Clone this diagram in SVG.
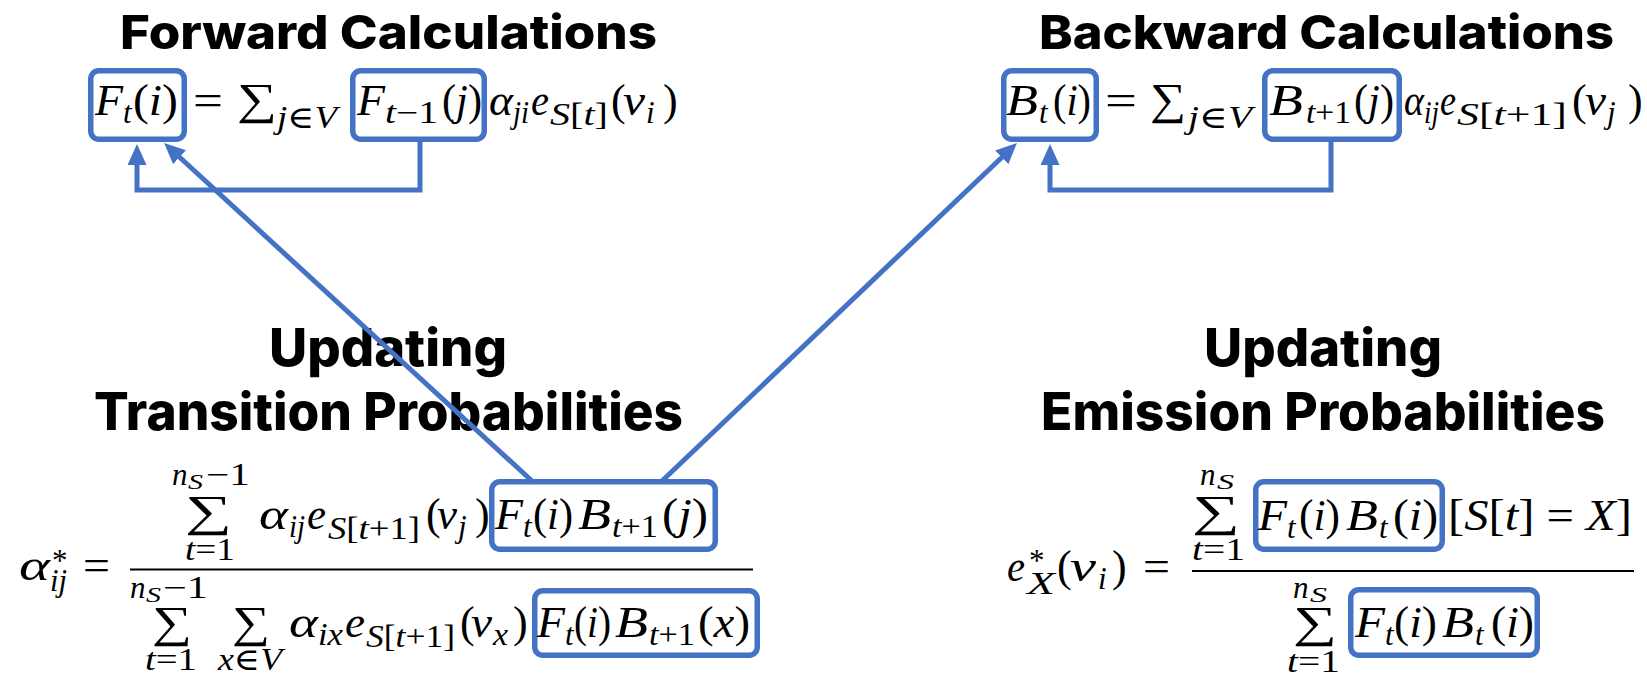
<svg xmlns="http://www.w3.org/2000/svg" width="1647" height="677" viewBox="0 0 1647 677">
<style>
.t{font-family:Inter,"Open Sans",Lato,sans-serif;font-weight:800;fill:#000;font-variant-ligatures:none}
.m{font-family:"Liberation Serif","DejaVu Serif",serif;fill:#000;font-size:44px}
.s{font-size:31px}
.ss{font-size:22px}
.i{font-style:italic}
.box{fill:none;stroke:#4472C4;stroke-width:5.5}
.bar{stroke:#000;stroke-width:1.8}
.c{fill:none;stroke:#4472C4;stroke-width:5}
</style>
<defs>
<marker id="ah" markerUnits="userSpaceOnUse" markerWidth="22" markerHeight="20" refX="1" refY="9.5" orient="auto">
<path d="M0,0 L21,9.5 L0,19 z" fill="#4472C4"/>
</marker>
</defs>

<g id="forward">
<text class="t" x="388.5" y="49" font-size="47" text-anchor="middle" textLength="537" lengthAdjust="spacingAndGlyphs">Forward Calculations</text>
<rect id="forward-Ft" class="box" x="90.75" y="70.75" width="93.5" height="68.5" rx="8"/>
<rect id="forward-Ft1" class="box" x="352.75" y="70.75" width="131.5" height="68.5" rx="8"/>
<text class="m i" x="95" y="115" textLength="28" lengthAdjust="spacingAndGlyphs">F</text>
<text class="m i s" x="123" y="123">t</text>
<text class="m" x="133" y="115" textLength="45" lengthAdjust="spacingAndGlyphs">(<tspan class="i">i</tspan>)</text>
<text class="m" x="193" y="115" textLength="30" lengthAdjust="spacingAndGlyphs">=</text>
<text class="m" x="237" y="114" font-size="38" textLength="40" lengthAdjust="spacingAndGlyphs">∑</text>
<text class="m s" x="277" y="128" textLength="60" lengthAdjust="spacingAndGlyphs"><tspan class="i">j</tspan>∈<tspan class="i">V</tspan></text>
<text class="m i" x="357" y="115" textLength="28" lengthAdjust="spacingAndGlyphs">F</text>
<text class="m s" x="385" y="123" textLength="53" lengthAdjust="spacingAndGlyphs"><tspan class="i">t</tspan>−1</text>
<text class="m" x="442" y="115" textLength="40" lengthAdjust="spacingAndGlyphs">(<tspan class="i">j</tspan>)</text>
<text class="m i" x="489" y="115" textLength="24" lengthAdjust="spacingAndGlyphs">α</text>
<text class="m i s" x="513" y="123" textLength="16" lengthAdjust="spacingAndGlyphs">ji</text>
<text class="m i" x="531" y="115" textLength="18" lengthAdjust="spacingAndGlyphs">e</text>
<text class="m s" x="550" y="125" textLength="58" lengthAdjust="spacingAndGlyphs"><tspan class="i">S</tspan>[<tspan class="i">t</tspan>]</text>
<text class="m" x="611" y="115">(</text>
<text class="m i" x="623" y="115" textLength="22" lengthAdjust="spacingAndGlyphs">v</text>
<text class="m i s" x="646" y="123">i</text>
<text class="m" x="663" y="115">)</text>
</g>

<g id="backward">
<text class="t" x="1326.5" y="49" font-size="47" text-anchor="middle" textLength="575" lengthAdjust="spacingAndGlyphs">Backward Calculations</text>
<rect id="backward-Bt" class="box" x="1003.75" y="70.75" width="92.5" height="68.5" rx="8"/>
<rect id="backward-Bt1" class="box" x="1264.75" y="70.75" width="134.5" height="68.5" rx="8"/>
<text class="m i" x="1006" y="115" textLength="32" lengthAdjust="spacingAndGlyphs">B</text>
<text class="m i s" x="1039" y="123">t</text>
<text class="m" x="1053" y="115" textLength="38" lengthAdjust="spacingAndGlyphs">(<tspan class="i">i</tspan>)</text>
<text class="m" x="1105" y="115" textLength="32" lengthAdjust="spacingAndGlyphs">=</text>
<text class="m" x="1150" y="114" font-size="38" textLength="36" lengthAdjust="spacingAndGlyphs">∑</text>
<text class="m s" x="1188" y="128" textLength="64" lengthAdjust="spacingAndGlyphs"><tspan class="i">j</tspan>∈<tspan class="i">V</tspan></text>
<text class="m i" x="1269" y="115" textLength="34" lengthAdjust="spacingAndGlyphs">B</text>
<text class="m s" x="1306" y="123" textLength="45" lengthAdjust="spacingAndGlyphs"><tspan class="i">t</tspan>+1</text>
<text class="m" x="1354" y="115" textLength="40" lengthAdjust="spacingAndGlyphs">(<tspan class="i">j</tspan>)</text>
<text class="m i" x="1404" y="115" textLength="20" lengthAdjust="spacingAndGlyphs">α</text>
<text class="m i s" x="1424" y="123" textLength="15" lengthAdjust="spacingAndGlyphs">ij</text>
<text class="m i" x="1440" y="115" textLength="16" lengthAdjust="spacingAndGlyphs">e</text>
<text class="m s" x="1457" y="125" textLength="110" lengthAdjust="spacingAndGlyphs"><tspan class="i">S</tspan>[<tspan class="i">t</tspan>+1]</text>
<text class="m" x="1572" y="115">(</text>
<text class="m i" x="1585" y="115" textLength="21" lengthAdjust="spacingAndGlyphs">v</text>
<text class="m i s" x="1607" y="123">j</text>
<text class="m" x="1628" y="115">)</text>
</g>

<g id="transition">
<text class="t" x="388" y="366" font-size="52" text-anchor="middle" textLength="238" lengthAdjust="spacingAndGlyphs">Updating</text>
<text class="t" x="388.5" y="430" font-size="52" text-anchor="middle" textLength="589" lengthAdjust="spacingAndGlyphs">Transition Probabilities</text>
<rect id="transition-num" class="box" x="491.75" y="481.75" width="223.5" height="67.5" rx="8"/>
<rect id="transition-den" class="box" x="534.75" y="590.75" width="222.5" height="64.5" rx="8"/>
<text class="m i" x="19" y="580" textLength="31" lengthAdjust="spacingAndGlyphs">α</text>
<text class="m s" x="52" y="571">*</text>
<text class="m i s" x="50" y="591" textLength="17" lengthAdjust="spacingAndGlyphs">ij</text>
<text class="m" x="83" y="580" textLength="27" lengthAdjust="spacingAndGlyphs">=</text>
<line class="bar" x1="130" y1="569.5" x2="753" y2="569.5"/>
<text class="m i s" x="172" y="485">n</text>
<text class="m i ss" x="188" y="489" textLength="15" lengthAdjust="spacingAndGlyphs">S</text>
<text class="m s" x="206" y="485" textLength="44" lengthAdjust="spacingAndGlyphs">−1</text>
<text class="m" x="185" y="526" font-size="43" textLength="47" lengthAdjust="spacingAndGlyphs">∑</text>
<text class="m s" x="185" y="560" textLength="50" lengthAdjust="spacingAndGlyphs"><tspan class="i">t</tspan>=1</text>
<text class="m i" x="259" y="529" textLength="29" lengthAdjust="spacingAndGlyphs">α</text>
<text class="m i s" x="289" y="537" textLength="16" lengthAdjust="spacingAndGlyphs">ij</text>
<text class="m i" x="307" y="529" textLength="19" lengthAdjust="spacingAndGlyphs">e</text>
<text class="m s" x="328" y="539" textLength="92" lengthAdjust="spacingAndGlyphs"><tspan class="i">S</tspan>[<tspan class="i">t</tspan>+1]</text>
<text class="m" x="426" y="529">(</text>
<text class="m i" x="437" y="529" textLength="20" lengthAdjust="spacingAndGlyphs">v</text>
<text class="m i s" x="458" y="537">j</text>
<text class="m" x="475" y="529">)</text>
<text class="m i" x="495" y="529" textLength="28" lengthAdjust="spacingAndGlyphs">F</text>
<text class="m i s" x="523" y="537">t</text>
<text class="m" x="533" y="529" textLength="40" lengthAdjust="spacingAndGlyphs">(<tspan class="i">i</tspan>)</text>
<text class="m i" x="578" y="529" textLength="33" lengthAdjust="spacingAndGlyphs">B</text>
<text class="m s" x="612" y="537" textLength="46" lengthAdjust="spacingAndGlyphs"><tspan class="i">t</tspan>+1</text>
<text class="m" x="662" y="529" textLength="46" lengthAdjust="spacingAndGlyphs">(<tspan class="i">j</tspan>)</text>
<text class="m i s" x="130" y="598">n</text>
<text class="m i ss" x="146" y="602" textLength="15" lengthAdjust="spacingAndGlyphs">S</text>
<text class="m s" x="163" y="598" textLength="45" lengthAdjust="spacingAndGlyphs">−1</text>
<text class="m" x="152" y="637" font-size="41" textLength="40" lengthAdjust="spacingAndGlyphs">∑</text>
<text class="m" x="232" y="637" font-size="41" textLength="38" lengthAdjust="spacingAndGlyphs">∑</text>
<text class="m s" x="145" y="670" textLength="52" lengthAdjust="spacingAndGlyphs"><tspan class="i">t</tspan>=1</text>
<text class="m s" x="218" y="670" textLength="64" lengthAdjust="spacingAndGlyphs"><tspan class="i">x</tspan>∈<tspan class="i">V</tspan></text>
<text class="m i" x="289" y="637" textLength="29" lengthAdjust="spacingAndGlyphs">α</text>
<text class="m i s" x="318" y="645" textLength="25" lengthAdjust="spacingAndGlyphs">ix</text>
<text class="m i" x="345" y="637" textLength="20" lengthAdjust="spacingAndGlyphs">e</text>
<text class="m s" x="366" y="647" textLength="89" lengthAdjust="spacingAndGlyphs"><tspan class="i">S</tspan>[<tspan class="i">t</tspan>+1]</text>
<text class="m" x="460" y="637">(</text>
<text class="m i" x="471" y="637" textLength="21" lengthAdjust="spacingAndGlyphs">v</text>
<text class="m i s" x="493" y="645" textLength="15" lengthAdjust="spacingAndGlyphs">x</text>
<text class="m" x="513" y="637">)</text>
<text class="m i" x="537" y="637" textLength="28" lengthAdjust="spacingAndGlyphs">F</text>
<text class="m i s" x="565" y="645">t</text>
<text class="m" x="574" y="637" textLength="37" lengthAdjust="spacingAndGlyphs">(<tspan class="i">i</tspan>)</text>
<text class="m i" x="615" y="637" textLength="33" lengthAdjust="spacingAndGlyphs">B</text>
<text class="m s" x="649" y="645" textLength="46" lengthAdjust="spacingAndGlyphs"><tspan class="i">t</tspan>+1</text>
<text class="m" x="698" y="637" textLength="52" lengthAdjust="spacingAndGlyphs">(<tspan class="i">x</tspan>)</text>
</g>

<g id="emission">
<text class="t" x="1323" y="366" font-size="52" text-anchor="middle" textLength="238" lengthAdjust="spacingAndGlyphs">Updating</text>
<text class="t" x="1323" y="430" font-size="52" text-anchor="middle" textLength="564" lengthAdjust="spacingAndGlyphs">Emission Probabilities</text>
<rect id="emission-num" class="box" x="1255.75" y="481.75" width="186.5" height="67.5" rx="8"/>
<rect id="emission-den" class="box" x="1350.75" y="589.75" width="186.5" height="65.5" rx="8"/>
<text class="m i" x="1007" y="581" textLength="18" lengthAdjust="spacingAndGlyphs">e</text>
<text class="m s" x="1029" y="571">*</text>
<text class="m i s" x="1027" y="594" textLength="28" lengthAdjust="spacingAndGlyphs">X</text>
<text class="m" x="1057" y="581">(</text>
<text class="m i" x="1070" y="581" textLength="26" lengthAdjust="spacingAndGlyphs">v</text>
<text class="m i s" x="1098" y="589">i</text>
<text class="m" x="1112" y="581">)</text>
<text class="m" x="1143" y="581" textLength="27" lengthAdjust="spacingAndGlyphs">=</text>
<line class="bar" x1="1192" y1="571" x2="1634" y2="571"/>
<text class="m i s" x="1200" y="485">n</text>
<text class="m i ss" x="1217" y="489" textLength="17" lengthAdjust="spacingAndGlyphs">S</text>
<text class="m" x="1192" y="526" font-size="43" textLength="48" lengthAdjust="spacingAndGlyphs">∑</text>
<text class="m s" x="1192" y="560" textLength="53" lengthAdjust="spacingAndGlyphs"><tspan class="i">t</tspan>=1</text>
<text class="m i" x="1258" y="530" textLength="29" lengthAdjust="spacingAndGlyphs">F</text>
<text class="m i s" x="1287" y="538">t</text>
<text class="m" x="1299" y="530" textLength="41" lengthAdjust="spacingAndGlyphs">(<tspan class="i">i</tspan>)</text>
<text class="m i" x="1346" y="530" textLength="32" lengthAdjust="spacingAndGlyphs">B</text>
<text class="m i s" x="1379" y="538">t</text>
<text class="m" x="1393" y="530" textLength="45" lengthAdjust="spacingAndGlyphs">(<tspan class="i">i</tspan>)</text>
<text class="m" x="1448" y="530" textLength="184" lengthAdjust="spacingAndGlyphs">[<tspan class="i">S</tspan>[<tspan class="i">t</tspan>] = <tspan class="i">X</tspan>]</text>
<text class="m i s" x="1293" y="598">n</text>
<text class="m i ss" x="1310" y="602" textLength="17" lengthAdjust="spacingAndGlyphs">S</text>
<text class="m" x="1293" y="637" font-size="41" textLength="44" lengthAdjust="spacingAndGlyphs">∑</text>
<text class="m s" x="1287" y="672" textLength="53" lengthAdjust="spacingAndGlyphs"><tspan class="i">t</tspan>=1</text>
<text class="m i" x="1355" y="637" textLength="30" lengthAdjust="spacingAndGlyphs">F</text>
<text class="m i s" x="1385" y="645">t</text>
<text class="m" x="1394" y="637" textLength="43" lengthAdjust="spacingAndGlyphs">(<tspan class="i">i</tspan>)</text>
<text class="m i" x="1442" y="637" textLength="32" lengthAdjust="spacingAndGlyphs">B</text>
<text class="m i s" x="1475" y="645">t</text>
<text class="m" x="1491" y="637" textLength="43" lengthAdjust="spacingAndGlyphs">(<tspan class="i">i</tspan>)</text>
</g>

<g id="connectors">
<path class="c" d="M420,142 V190 H137 V164" marker-end="url(#ah)"/>
<path class="c" d="M1331,142 V190 H1050 V164" marker-end="url(#ah)"/>
<path class="c" d="M532,481 L178.8,156.5" marker-end="url(#ah)"/>
<path class="c" d="M662,481 L1002.5,156.7" marker-end="url(#ah)"/>
</g>
</svg>
